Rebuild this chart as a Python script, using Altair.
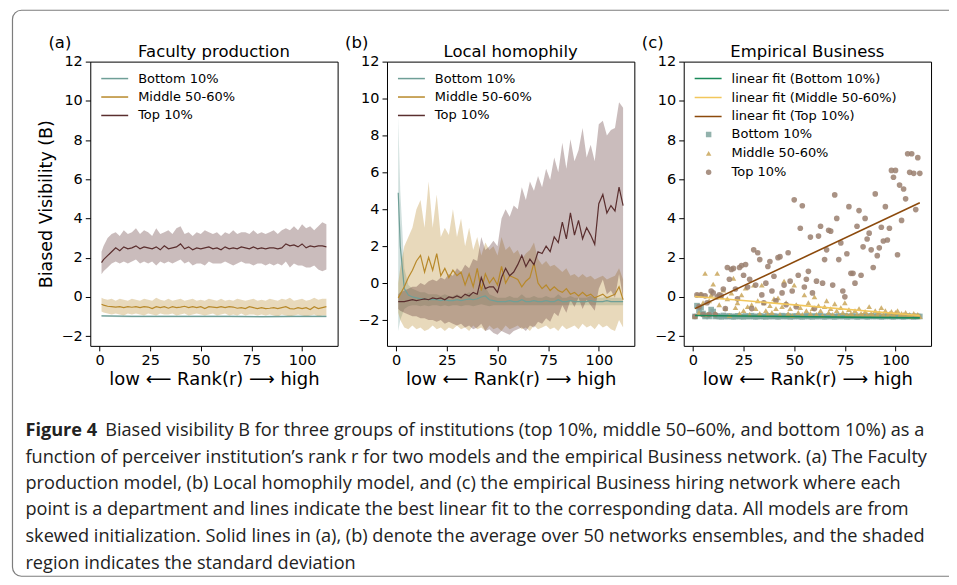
import altair as alt
import pandas as pd

# ---------------- data ----------------
GROUPS = ["Bottom 10%", "Middle 50-60%", "Top 10%"]
LINE_COLORS = ["#6f9f97", "#b8892a", "#5a2e2e"]

RANKS_AB = [1, 2, 4, 6, 8, 10, 12, 14, 16, 18, 20, 22, 24, 26, 28, 30, 32, 34, 36, 38,
            40, 42, 44, 46, 48, 50, 52, 54, 56, 58, 60, 62, 64, 66, 68, 70, 72, 74, 76, 78,
            80, 82, 84, 86, 88, 90, 92, 94, 96, 98, 100, 102, 104, 106, 108, 110, 112]

# (a) Faculty production
A_BOT_RANKS = [1, 16, 32, 48, 64, 80, 96, 112]
A_BOT_MEAN = [-0.97, -1.0, -1.0, -1.0, -1.0, -1.01, -1.0, -1.0]
A_BOT_HI = [-0.93, -0.95, -0.95, -0.95, -0.95, -0.96, -0.95, -0.95]
A_BOT_LO = [-1.02, -1.05, -1.05, -1.05, -1.05, -1.06, -1.05, -1.05]

A_MID_MEAN = [-0.38, -0.42, -0.48, -0.5, -0.52, -0.5, -0.55, -0.5, -0.53, -0.5,
              -0.55, -0.5, -0.52, -0.6, -0.5, -0.55, -0.5, -0.58, -0.5, -0.55,
              -0.52, -0.48, -0.55, -0.5, -0.55, -0.5, -0.6, -0.5, -0.52, -0.55,
              -0.5, -0.55, -0.5, -0.52, -0.58, -0.55, -0.6, -0.5, -0.55, -0.6,
              -0.55, -0.6, -0.58, -0.55, -0.6, -0.55, -0.5, -0.6, -0.62, -0.55,
              -0.6, -0.55, -0.65, -0.5, -0.6, -0.55, -0.5]
A_MID_HI = [-0.05, -0.1, -0.15, -0.1, -0.2, -0.1, -0.15, -0.2, -0.1, -0.15,
            -0.2, -0.1, -0.15, -0.2, -0.05, -0.15, -0.2, -0.1, -0.2, -0.15,
            -0.1, -0.2, -0.15, -0.1, -0.2, -0.15, -0.2, -0.1, -0.15, -0.2,
            -0.1, -0.2, -0.15, -0.2, -0.1, -0.15, -0.2, -0.15, -0.1, -0.2,
            -0.15, -0.2, -0.1, -0.15, -0.2, -0.1, -0.15, -0.05, -0.2, -0.15,
            -0.1, -0.2, -0.15, -0.05, -0.15, -0.1, -0.1]
A_MID_LO = [-0.75, -0.8, -0.85, -0.9, -0.85, -0.9, -0.95, -0.85, -0.9, -0.85,
            -0.9, -0.95, -0.85, -0.9, -0.95, -0.85, -0.9, -0.9, -0.85, -0.95,
            -0.9, -0.85, -0.95, -0.9, -0.85, -0.9, -0.95, -0.9, -0.85, -0.95,
            -0.9, -0.85, -0.95, -0.9, -0.95, -0.85, -0.95, -0.9, -0.9, -0.95,
            -0.9, -0.95, -0.9, -0.95, -1.0, -0.9, -0.95, -1.0, -0.95, -0.9,
            -0.95, -1.0, -0.95, -0.9, -1.0, -0.95, -0.95]

A_TOP_MEAN = [1.75, 1.9, 2.1, 2.3, 2.5, 2.35, 2.55, 2.45, 2.5, 2.6,
              2.45, 2.55, 2.5, 2.45, 2.55, 2.4, 2.6, 2.45, 2.5, 2.55,
              2.7, 2.45, 2.55, 2.4, 2.5, 2.45, 2.5, 2.55, 2.45, 2.5,
              2.4, 2.55, 2.45, 2.5, 2.45, 2.55, 2.5, 2.45, 2.55, 2.45,
              2.5, 2.45, 2.5, 2.5, 2.45, 2.5, 2.7, 2.6, 2.65, 2.55,
              2.7, 2.5, 2.6, 2.55, 2.6, 2.6, 2.55]
A_TOP_HI = [2.3, 2.6, 3.0, 3.2, 3.3, 3.1, 3.4, 3.2, 3.3, 3.5,
            3.2, 3.4, 3.3, 3.1, 3.5, 3.2, 3.3, 3.4, 3.2, 3.5,
            3.6, 3.2, 3.3, 3.1, 3.3, 3.2, 3.4, 3.3, 3.2, 3.3,
            3.1, 3.3, 3.2, 3.4, 3.2, 3.3, 3.3, 3.2, 3.4, 3.2,
            3.3, 3.2, 3.3, 3.4, 3.2, 3.4, 3.5, 3.4, 3.6, 3.4,
            3.7, 3.5, 3.6, 3.4, 3.6, 3.8, 3.7]
A_TOP_LO = [1.15, 1.3, 1.5, 1.7, 1.8, 1.7, 1.8, 1.7, 1.8, 1.9,
            1.7, 1.8, 1.7, 1.8, 1.6, 1.8, 1.7, 1.8, 1.7, 1.8,
            1.9, 1.7, 1.8, 1.6, 1.7, 1.7, 1.6, 1.8, 1.7, 1.7,
            1.7, 1.8, 1.7, 1.6, 1.7, 1.8, 1.7, 1.7, 1.6, 1.7,
            1.7, 1.6, 1.7, 1.6, 1.7, 1.6, 1.8, 1.5, 1.7, 1.6,
            1.6, 1.5, 1.5, 1.6, 1.4, 1.3, 1.4]

# (b) Local homophily
B_BOT_MEAN = [4.9, 2.0, -0.3, -0.65, -0.75, -0.8, -0.85, -0.85, -0.9, -0.9,
              -0.9, -0.95, -0.9, -0.95, -0.95, -0.9, -0.95, -0.9, -0.85, -0.9,
              -0.85, -0.75, -0.7, -0.9, -0.95, -1.0, -1.0, -1.0, -0.95, -1.0,
              -1.0, -0.9, -1.0, -1.0, -0.95, -1.0, -1.0, -0.95, -1.0, -1.0,
              -0.9, -1.0, -1.0, -0.95, -1.0, -1.0, -1.0, -1.0, -0.95, -1.0,
              -1.0, -1.0, -0.95, -1.0, -1.0, -1.0, -1.0]
B_BOT_HI = [9.0, 5.0, 0.8, -0.1, -0.3, -0.4, -0.5, -0.5, -0.6, -0.6,
            -0.6, -0.7, -0.6, -0.7, -0.7, -0.6, -0.7, -0.6, -0.5, -0.6,
            -0.5, -0.3, -0.2, -0.6, -0.7, -0.8, -0.8, -0.8, -0.7, -0.8,
            -0.8, -0.6, -0.8, -0.8, -0.7, -0.8, -0.8, -0.7, -0.8, -0.8,
            -0.6, -0.8, -0.8, -0.7, -0.8, -0.8, -0.8, -0.8, -0.7, -0.8,
            -0.8, -0.8, -0.7, -0.8, -0.8, -0.8, -0.8]
B_BOT_LO = [-2.6, -2.0, -1.4, -1.25, -1.2, -1.2, -1.25, -1.2, -1.25, -1.2,
            -1.2, -1.25, -1.2, -1.25, -1.2, -1.2, -1.25, -1.2, -1.2, -1.25,
            -1.2, -1.15, -1.2, -1.25, -1.2, -1.2, -1.2, -1.2, -1.2, -1.2,
            -1.2, -1.2, -1.2, -1.2, -1.2, -1.2, -1.2, -1.2, -1.2, -1.2,
            -1.2, -1.2, -1.2, -1.2, -1.2, -1.2, -1.2, -1.2, -1.2, -1.2,
            -1.2, -1.2, -1.2, -1.2, -1.2, -1.2, -1.2]

B_MID_MEAN = [-0.8, -0.6, -0.2, 0.3, 0.7, 1.2, 1.5, 0.6, 1.4, 0.7,
              1.6, 0.4, 0.8, 0.3, 0.7, 0.4, 0.6, -0.1, 0.5, -0.2,
              0.8, -0.4, 0.5, 0.0, 0.3, -0.1, 0.9, 0.0, 0.4, 0.3,
              0.2, -0.2, 0.1, 0.3, 1.1, 0.0, -0.3, -0.1, -0.4, -0.2,
              -0.4, -0.5, -0.3, -0.6, -0.5, -0.7, -0.5, -0.7, -0.6, -0.8,
              -0.7, -0.6, -0.8, -0.7, -0.6, -0.2, -0.9]
B_MID_HI = [0.0, 0.8, 2.0, 2.5, 3.0, 4.0, 4.5, 3.0, 5.5, 3.0,
            4.8, 2.5, 3.0, 2.6, 4.0, 2.5, 3.5, 2.0, 3.0, 1.8,
            2.5, 1.5, 2.2, 1.8, 2.0, 1.5, 2.5, 1.8, 2.0, 1.6,
            1.8, 1.3, 1.6, 1.8, 2.2, 1.3, 1.0, 1.2, 0.9, 1.0,
            0.8, 0.6, 0.8, 0.4, 0.5, 0.3, 0.5, 0.3, 0.4, 0.2,
            0.3, 0.4, 0.2, 0.3, 0.4, 0.8, 0.2]
B_MID_LO = [-1.6, -2.0, -2.4, -2.5, -2.3, -2.5, -2.4, -2.6, -2.5, -2.3,
            -2.5, -2.4, -2.6, -2.4, -2.5, -2.3, -2.5, -2.4, -2.6, -2.3,
            -2.5, -2.4, -2.6, -2.3, -2.5, -2.4, -2.6, -2.3, -2.5, -2.4,
            -2.3, -2.5, -2.4, -2.6, -2.3, -2.5, -2.4, -2.3, -2.5, -2.4,
            -2.6, -2.3, -2.5, -2.4, -2.3, -2.5, -2.2, -2.4, -2.3, -2.5,
            -2.2, -2.4, -2.3, -2.5, -2.6, -2.0, -2.4]

B_TOP_MEAN = [-1.0, -1.0, -1.0, -0.95, -0.9, -0.95, -0.9, -0.85, -0.9, -0.8,
              -0.85, -0.8, -0.9, -0.75, -0.8, -0.7, -0.8, -0.6, -0.7, -0.5,
              -0.6, 0.3, -0.3, -0.2, -0.2, -0.5, 0.3, 0.8, 0.4, 0.6,
              1.0, 1.5, 0.9, 1.3, 1.0, 1.7, 1.6, 2.0, 1.7, 2.5,
              2.2, 3.3, 2.4, 3.8, 2.6, 3.4, 2.4, 3.0, 2.6, 2.1,
              4.3, 4.8, 3.8, 4.2, 3.9, 5.2, 4.2]
B_TOP_HI = [-0.6, -0.5, -0.4, -0.3, -0.2, -0.2, 0.0, -0.1, 0.1, 0.2,
            0.1, 0.3, 0.2, 0.5, 0.4, 0.8, 0.6, 1.0, 0.8, 1.3,
            1.2, 2.5, 1.8, 2.0, 2.3, 2.0, 3.5, 4.0, 3.6, 4.2,
            4.0, 5.2, 4.5, 5.5, 5.0, 5.8, 5.2, 6.2, 5.6, 6.8,
            6.0, 7.6, 6.2, 7.8, 6.6, 7.2, 8.4, 6.8, 7.5, 6.6,
            8.6, 8.8, 8.0, 8.3, 8.4, 9.8, 9.5]
B_TOP_LO = [-1.4, -1.5, -1.6, -1.7, -1.8, -1.8, -1.9, -1.9, -2.0, -2.0,
            -2.1, -2.0, -2.2, -2.1, -2.2, -2.3, -2.2, -2.4, -2.3, -2.5,
            -2.4, -2.2, -2.6, -2.5, -2.7, -2.8, -2.6, -2.7, -2.8, -2.6,
            -2.5, -2.4, -2.6, -2.3, -2.4, -2.1, -2.2, -1.9, -2.1, -1.6,
            -1.8, -1.2, -1.6, -0.9, -1.3, -0.8, -1.4, -0.9, -1.2, -1.5,
            -0.3, 0.2, -0.6, -0.4, -0.8, 0.5, -0.8]

# (c) Empirical Business
PT_GROUPS = ["Bottom 10%", "Middle 50-60%", "Top 10%"]
PT_COLORS = ["#7fa59d", "#c9a65a", "#9a7f6f"]
PT_SHAPES = ["square", "triangle-up", "circle"]
RANKS_C = list(range(1, 113))
C_BOT = [-1.0, -0.45, -0.7, -0.55, -0.85, -1.0, -0.95, -1.0, -0.65, -0.75,
         -1.0, -0.98, -1.0, -1.02, -0.95, -1.0, -1.0, -0.98, -1.0, -1.02,
         -1.0, -0.97, -1.0, -1.0, -1.02, -0.98, -1.0, -1.0, -0.96, -1.0,
         -1.02, -1.0, -0.98, -1.0, -1.0, -1.02, -0.97, -1.0, -1.0, -0.98,
         -1.0, -1.02, -1.0, -0.96, -1.0, -1.0, -0.98, -1.02, -1.0, -1.0,
         -0.98, -1.0, -1.0, -1.02, -1.0, -0.97, -1.0, -1.0, -1.02, -0.98,
         -1.0, -1.0, -0.96, -1.0, -1.02, -1.0, -0.98, -1.0, -1.0, -1.02,
         -1.0, -0.98, -1.0, -1.0, -0.97, -1.02, -1.0, -1.0, -0.98, -1.0,
         -1.02, -1.0, -1.0, -0.98, -1.0, -1.02, -1.0, -0.97, -1.0, -1.0,
         -0.98, -1.0, -1.02, -1.0, -1.0, -0.96, -1.0, -1.0, -1.02, -1.0,
         -0.98, -1.0, -1.0, -1.02, -1.0, -0.98, -1.0, -1.0, -1.02, -1.0,
         -1.0, -1.0]
C_MID = [-1.0, 0.1, -0.8, 0.15, -0.3, 1.2, -0.9, -0.2, 0.1, 0.65,
         -0.85, 1.2, -0.4, 0.0, 0.35, -0.6, -0.1, -0.95, 0.2, 0.95,
         -0.55, -0.3, -0.85, 0.1, -0.7, 0.45, -0.5, -0.9, -0.4, 0.6,
         -0.6, -0.2, -0.85, 0.6, -0.3, -0.7, -0.9, -0.45, -0.8, -0.1,
         -0.6, -0.05, -0.9, -0.5, 0.8, -0.3, -0.85, -0.6, -0.95, 0.6,
         -0.4, -0.8, -0.55, -0.9, 0.1, -0.7, -0.3, -0.85, -0.6, 0.0,
         -0.9, -0.45, -0.7, -0.95, -0.5, -0.2, -0.8, -0.6, -0.9, -0.35,
         -0.7, -0.95, -0.55, -0.8, -0.3, -0.9, -0.65, -0.85, -0.95, -0.7,
         -0.9, -0.6, -0.85, -0.95, -0.75, -0.9, -0.5, -0.85, -0.95, -0.7,
         -0.9, -0.8, -0.55, -0.9, -0.7, -0.95, -0.85, -0.75, -0.9, -0.8,
         -0.7, -0.95, -0.85, -0.9, -0.8, -0.95, -0.9, -1.0, -0.85, -0.95,
         -0.9, -1.0]
C_TOP = [-1.0, 0.1, -0.5, 0.1, -0.9, 0.05, -0.3, -0.9, 0.3, 0.2,
         -0.9, 0.0, 0.1, 0.05, 0.4, -0.6, 1.5, 0.9, 1.4, 1.45,
         0.4, -0.1, 1.5, 1.6, 1.1, 1.65, 0.5, 0.9, -0.6, 2.4,
         0.6, 2.25, 1.9, 0.1, -0.3, 0.7, 1.55, 1.8, 0.3, 1.05,
         -0.2, 2.0, 2.05, 0.2, 0.6, -0.4, 2.25, 0.8, 0.3, 4.95,
         -0.5, 1.1, 3.5, 4.65, 0.5, 0.9, 1.3, 3.05, 0.2, -0.6,
         0.8, 3.1, 3.6, 0.7, 1.9, 2.4, 3.4, 3.35, 0.6, 5.2,
         4.0, 1.9, 2.75, 0.3, 0.0, 2.2, 4.6, 1.2, 1.2, 0.7,
         3.6, 4.4, 1.1, 2.55, 4.0, 2.95, 3.25, 2.4, 1.5, 5.25,
         2.1, 2.5, 3.55, 2.85, 4.6, 2.9, 3.5, 6.45, 6.1, 6.45,
         2.15, 5.7, 3.9, 5.5, 5.0, 7.3, 6.35, 7.3, 6.3, 4.45,
         7.1, 6.3]
FIT_GROUPS = ["linear fit (Bottom 10%)", "linear fit (Middle 50-60%)", "linear fit (Top 10%)"]
FIT_COLORS = ["#1b8a5a", "#f2c75c", "#8c4a0c"]
FIT_RANKS = [1, 112]
FIT_BOT = [-0.95, -1.07]
FIT_MID = [0.02, -0.95]
FIT_TOP = [-0.6, 4.8]

X_DOMAIN = [-4.55, 117.55]
X_TICKS = [0, 25, 50, 75, 100]
Y_TICKS = [-2, 0, 2, 4, 6, 8, 10, 12]
Y_DOMAIN_AC = [-2.5, 12]
Y_DOMAIN_B = [-3.4, 12]
X_TITLE = "low \u27f5 Rank(r) \u27f6 high"
Y_TITLE = "Biased Visibility (B)"

# caption: text, x, y (pixels relative to caption origin), style
CAP_TEXT = ["Figure 4",
            "Biased visibility B for three groups of institutions (top 10%, middle 50\u201360%, and bottom 10%) as a",
            "function of perceiver institution\u2019s rank r for two models and the empirical Business network. (a) The Faculty",
            "production model, (b) Local homophily model, and (c) the empirical Business hiring network where each",
            "point is a department and lines indicate the best linear fit to the corresponding data. All models are from",
            "skewed initialization. Solid lines in (a), (b) denote the average over 50 networks ensembles, and the shaded",
            "region indicates the standard deviation"]
CAP_X = [-65, 15, -65, -65, -65, -65, -65]
CAP_Y = [70, 70, 97, 123.5, 150, 177, 203.5]
CAP_STYLE = ["bold", "normal", "normal", "normal", "normal", "normal", "normal"]

# legend rows (pixel offsets inside the plot area)
LEG_ROW_Y = [17, 35.5, 54]

FONT = "DejaVu Sans"
CAP_FONT = "Open Sans"
PW, PH = 248, 285


def band_df(ranks, mean, lo, hi, group):
    return pd.DataFrame({"rank": ranks, "mean": mean, "lo": lo, "hi": hi,
                         "group": group, "band": group})


def x_enc(field):
    return alt.X(field, type="quantitative",
                 scale=alt.Scale(domain=X_DOMAIN, nice=False, zero=False),
                 axis=alt.Axis(values=X_TICKS, title=X_TITLE, titlePadding=3, titleFontSize=18))


def y_enc(field, ydom, ytitle):
    if ytitle:
        ax = alt.Axis(values=Y_TICKS, title=ytitle, titlePadding=6)
    else:
        ax = alt.Axis(values=Y_TICKS, title=None)
    return alt.Y(field, type="quantitative",
                 scale=alt.Scale(domain=ydom, nice=False, zero=False), axis=ax)


def line_legend(lx, ly):
    return alt.Legend(orient="none", legendX=lx, legendY=ly, title=None,
                      symbolType="stroke", symbolSize=729, symbolStrokeWidth=1.5,
                      labelFont=FONT, labelFontSize=13, labelColor="black",
                      labelOffset=9, padding=0, rowPadding=0, clipHeight=18.5, labelLimit=400)


def text_layer(txt, xpx, ypx, align, size=16.5, baseline="alphabetic"):
    return alt.Chart(pd.DataFrame({"t": [txt]})).mark_text(
        align=align, baseline=baseline, font=FONT, fontSize=size, color="black"
    ).encode(text="t:N", x=alt.value(xpx), y=alt.value(ypx))


def legend_layers():
    layers = []
    one = pd.DataFrame({"k": [0]})
    for grp, col, ry in zip(GROUPS, LINE_COLORS, LEG_ROW_Y):
        layers.append(alt.Chart(one).mark_rule(color=col, strokeWidth=1.5).encode(
            x=alt.value(11), x2=alt.value(38), y=alt.value(ry)))
        layers.append(text_layer(grp, 48, ry, "left", size=13, baseline="middle"))
    return layers


def band_panel(df, ydom, title, letter, ytitle):
    area = alt.Chart(df).mark_area(opacity=0.32).encode(
        x=x_enc("rank"), y=y_enc("lo", ydom, ytitle), y2="hi:Q",
        fill=alt.Fill("band:N", scale=alt.Scale(domain=GROUPS, range=LINE_COLORS), legend=None))
    line = alt.Chart(df).mark_line(strokeWidth=1.2).encode(
        x=x_enc("rank"), y=y_enc("mean", ydom, ytitle),
        stroke=alt.Stroke("group:N", scale=alt.Scale(domain=GROUPS, range=LINE_COLORS),
                          legend=None))
    return alt.layer(area, line, *legend_layers(), text_layer(letter, -42, -14, "left"),
                     text_layer(title, PW / 2, -5, "center")).properties(width=PW, height=PH)


df_a = pd.concat([
    band_df(A_BOT_RANKS, A_BOT_MEAN, A_BOT_LO, A_BOT_HI, GROUPS[0]),
    band_df(RANKS_AB, A_MID_MEAN, A_MID_LO, A_MID_HI, GROUPS[1]),
    band_df(RANKS_AB, A_TOP_MEAN, A_TOP_LO, A_TOP_HI, GROUPS[2]),
], ignore_index=True)
df_b = pd.concat([
    band_df(RANKS_AB, B_BOT_MEAN, B_BOT_LO, B_BOT_HI, GROUPS[0]),
    band_df(RANKS_AB, B_MID_MEAN, B_MID_LO, B_MID_HI, GROUPS[1]),
    band_df(RANKS_AB, B_TOP_MEAN, B_TOP_LO, B_TOP_HI, GROUPS[2]),
], ignore_index=True)

panel_a = band_panel(df_a, Y_DOMAIN_AC, "Faculty production", "(a)", Y_TITLE)
panel_b = band_panel(df_b, Y_DOMAIN_B, "Local homophily", "(b)", None)

df_pts = pd.concat([
    pd.DataFrame({"rank": RANKS_C, "val": C_BOT, "group": PT_GROUPS[0]}),
    pd.DataFrame({"rank": RANKS_C, "val": C_MID, "group": PT_GROUPS[1]}),
    pd.DataFrame({"rank": RANKS_C, "val": C_TOP, "group": PT_GROUPS[2]}),
], ignore_index=True)
df_fit = pd.concat([
    pd.DataFrame({"rank": FIT_RANKS, "val": FIT_BOT, "fit": FIT_GROUPS[0]}),
    pd.DataFrame({"rank": FIT_RANKS, "val": FIT_MID, "fit": FIT_GROUPS[1]}),
    pd.DataFrame({"rank": FIT_RANKS, "val": FIT_TOP, "fit": FIT_GROUPS[2]}),
], ignore_index=True)

pt_legend = alt.Legend(orient="none", legendX=18.5, legendY=63.75, title=None,
                       symbolSize=30, symbolStrokeWidth=0, symbolOpacity=0.85,
                       labelFont=FONT, labelFontSize=13, labelColor="black",
                       labelOffset=16.5, padding=0, rowPadding=0, clipHeight=18.5, labelLimit=400)
scatter = alt.Chart(df_pts).mark_point(filled=True, size=32, opacity=0.85).encode(
    x=x_enc("rank"), y=y_enc("val", Y_DOMAIN_AC, None),
    fill=alt.Fill("group:N", scale=alt.Scale(domain=PT_GROUPS, range=PT_COLORS), legend=pt_legend),
    shape=alt.Shape("group:N", scale=alt.Scale(domain=PT_GROUPS, range=PT_SHAPES), legend=pt_legend))
fits = alt.Chart(df_fit).mark_line(strokeWidth=1.6).encode(
    x=x_enc("rank"), y=y_enc("val", Y_DOMAIN_AC, None),
    stroke=alt.Stroke("fit:N", scale=alt.Scale(domain=FIT_GROUPS, range=FIT_COLORS),
                      legend=line_legend(10, 7.75)))
panel_c = alt.layer(scatter, fits, text_layer("(c)", -42, -14, "left"),
                    text_layer("Empirical Business", PW / 2, -5, "center")).properties(width=PW, height=PH)

# caption
cap_df = pd.DataFrame({"txt": CAP_TEXT, "px": CAP_X, "py": CAP_Y, "sty": CAP_STYLE})


def cap_layer(style):
    kw = dict(align="left", baseline="alphabetic", font=CAP_FONT, fontSize=18.2, color="#222222")
    if style == "bold":
        kw["fontWeight"] = "bold"
    return alt.Chart(cap_df).transform_filter(alt.datum.sty == style).mark_text(**kw).encode(
        text="txt:N",
        x=alt.X("px:Q", scale=None, axis=None),
        y=alt.Y("py:Q", scale=None, axis=None))


# outer figure frame; its right edge lies beyond the visible page like in the reference
frame = alt.Chart(pd.DataFrame({"f": [1]})).mark_rect(
    fill="white", fillOpacity=0, stroke="#7d7d7d", strokeWidth=1.2, cornerRadius=9
).encode(x=alt.value(-78), x2=alt.value(900), y=alt.value(-356.5), y2=alt.value(211))

caption = alt.layer(frame, cap_layer("normal"), cap_layer("bold")).properties(
    width=843, height=200, view=alt.ViewBackground(stroke="transparent"))

top = alt.hconcat(panel_a, panel_b, panel_c, spacing=49.5, bounds="flush").resolve_scale(
    fill="independent", stroke="independent", shape="independent"
).resolve_legend(fill="independent", stroke="independent", shape="independent")

chart = alt.vconcat(top, caption, spacing=305, bounds="flush").properties(
    padding={"left": 2.5, "top": 0, "right": -41, "bottom": 0}
).configure_view(stroke="black", strokeWidth=1).configure_axis(
    grid=False, domain=False, labelFont=FONT, labelFontSize=14.5, labelColor="black",
    tickColor="black", tickSize=5, tickWidth=1, labelPadding=3,
    titleFont=FONT, titleFontSize=17.5, titleFontWeight="normal", titleColor="black"
)

chart.save("out.html", embed_options={"renderer": "svg", "actions": False})
